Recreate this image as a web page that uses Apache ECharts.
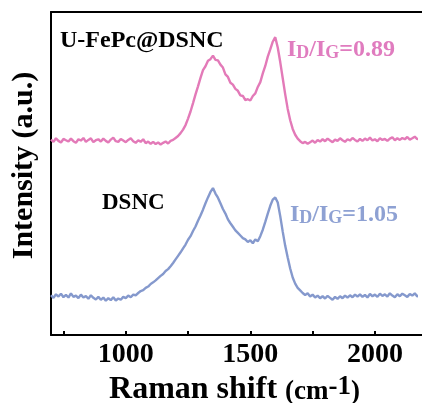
<!DOCTYPE html>
<html>
<head>
<meta charset="utf-8">
<script src="https://cdn.jsdelivr.net/npm/echarts@6/dist/echarts.min.js"></script>
<style>
  html, body { margin: 0; padding: 0; background: #fff; }
  #raman_ { width: 422px; height: 403px; }
</style>
</head>
<body>
<div id="raman_"></div>
<script>
// Raman shift, cm-1 (10 cm-1 step)
var shift = [
    700, 710, 720, 730, 740, 750, 760, 770, 780, 790,
    800, 810, 820, 830, 840, 850, 860, 870, 880, 890,
    900, 910, 920, 930, 940, 950, 960, 970, 980, 990,
    1000, 1010, 1020, 1030, 1040, 1050, 1060, 1070, 1080, 1090,
    1100, 1110, 1120, 1130, 1140, 1150, 1160, 1170, 1180, 1190,
    1200, 1210, 1220, 1230, 1240, 1250, 1260, 1270, 1280, 1290,
    1300, 1310, 1320, 1330, 1340, 1350, 1360, 1370, 1380, 1390,
    1400, 1410, 1420, 1430, 1440, 1450, 1460, 1470, 1480, 1490,
    1500, 1510, 1520, 1530, 1540, 1550, 1560, 1570, 1580, 1590,
    1600, 1610, 1620, 1630, 1640, 1650, 1660, 1670, 1680, 1690,
    1700, 1710, 1720, 1730, 1740, 1750, 1760, 1770, 1780, 1790,
    1800, 1810, 1820, 1830, 1840, 1850, 1860, 1870, 1880, 1890,
    1900, 1910, 1920, 1930, 1940, 1950, 1960, 1970, 1980, 1990,
    2000, 2010, 2020, 2030, 2040, 2050, 2060, 2070, 2080, 2090,
    2100, 2110, 2120, 2130, 2140, 2150, 2160, 2170, 2180, 2190
];

// U-FePc@DSNC (offset upward, arbitrary units)
var ufepc = [
    60.5, 59.8, 60.9, 60.1, 59.6, 60.7, 60.3, 59.9, 60.8, 60.0,
    59.5, 60.6, 60.2, 61.0, 59.8, 60.4, 60.9, 59.7, 60.3, 60.6,
    59.9, 60.8, 60.1, 59.6, 60.5, 61.1, 60.0, 59.8, 60.7, 60.2,
    59.7, 60.4, 60.9, 60.0, 59.5, 60.3, 59.8, 60.6, 59.4, 59.9,
    59.2, 59.8, 59.1, 59.6, 59.0, 59.5, 59.9, 59.3, 60.1, 60.4,
    61.0, 61.6, 62.5, 63.6, 65.0, 67.0, 69.2, 71.8, 74.5, 77.0,
    79.6, 82.0, 83.2, 84.9, 85.4, 86.5, 85.2, 85.0, 83.7, 82.8,
    80.7, 79.9, 78.1, 77.5, 76.2, 75.6, 74.2, 74.0, 72.7, 73.0,
    72.6, 74.0, 74.8, 76.8, 78.3, 81.0, 83.3, 86.2, 88.4, 90.8,
    92.2, 89.0, 84.5, 79.5, 74.5, 70.0, 66.5, 63.8, 62.0, 60.8,
    60.0, 59.4, 59.8, 59.2, 59.7, 60.2, 59.5, 60.4, 59.9, 60.6,
    60.0, 60.8, 60.2, 59.7, 60.5, 60.1, 60.9, 60.3, 59.8, 60.6,
    60.2, 61.0, 60.4, 59.9, 60.7, 60.1, 60.8, 60.3, 61.1, 60.2,
    60.6, 60.0, 60.9, 60.4, 60.7, 60.1, 60.8, 61.2, 60.3, 60.9,
    60.4, 61.0, 60.6, 61.3, 60.5, 60.9, 61.4, 60.6, 61.0, 60.2
];

// DSNC
var dsnc = [
    12.3, 11.5, 12.6, 11.9, 12.8, 11.7, 12.4, 11.6, 12.9, 11.8,
    12.2, 11.4, 12.5, 11.6, 12.1, 11.2, 12.3, 11.5, 11.0, 11.8,
    10.9, 11.6, 10.6, 11.4, 10.8, 11.7, 10.7, 11.3, 10.9, 11.8,
    11.4, 12.2, 11.7, 12.5, 12.3, 13.0, 13.6, 13.9, 14.6, 15.0,
    15.8, 16.3, 16.9, 17.6, 18.3, 18.9, 19.8, 20.4, 21.3, 22.3,
    23.4, 24.5, 25.6, 26.8, 28.0, 29.5, 30.6, 32.2, 33.6, 35.4,
    37.0, 38.8, 40.8, 42.6, 44.3, 45.5, 43.8, 42.5, 40.8, 39.0,
    37.6, 35.8, 34.6, 33.5, 32.4, 31.6, 30.8, 30.0, 29.6, 28.8,
    29.3, 28.4, 29.6, 29.0, 30.6, 32.6, 35.0, 37.6, 40.0, 41.9,
    42.6, 41.0, 36.8, 32.0, 27.6, 24.0, 20.6, 17.8, 15.9, 14.6,
    13.8, 13.0, 12.4, 12.9, 11.9, 12.5, 11.6, 12.2, 11.4, 12.0,
    11.3, 12.1, 11.5, 10.9, 11.8, 11.2, 12.0, 11.4, 12.2, 11.6,
    12.3, 11.7, 12.5, 11.9, 12.6, 11.8, 12.4, 11.6, 12.7, 12.0,
    12.5, 11.8, 12.8, 12.1, 12.6, 11.9, 12.9, 12.2, 11.7, 12.6,
    12.0, 12.8, 12.3, 11.8, 12.7, 12.2, 12.9, 11.9, 12.5, 12.1
];

var tickValues = [750, 1000, 1250, 1500, 1750, 2000];
var labelValues = [1000, 1500, 2000];

var pink = '#e37ab8';
var blue = '#8599cd';
var serif = '"Liberation Serif", "Times New Roman", serif';

function pairs(xs, ys) {
    var out = [];
    for (var i = 0; i < xs.length; i++) {
        out.push([xs[i], ys[i]]);
    }
    return out;
}

function ratioText(x, y, value, color) {
    return {
        type: 'text',
        x: x,
        y: y,
        style: {
            text: '{m|I}{s|D}{m|/I}{s|G}{m|=' + value + '}',
            verticalAlign: 'middle',
            rich: {
                m: { fontSize: 24, fontWeight: 'bold', fontFamily: serif, fill: color, lineHeight: 24 },
                s: { fontSize: 18, fontWeight: 'bold', fontFamily: serif, fill: color, lineHeight: 6, verticalAlign: 'bottom' }
            }
        }
    };
}

var chart = echarts.init(document.getElementById('raman_'));

var option = {
    backgroundColor: '#fff',
    animation: false,
    grid: {
        left: 51,
        top: 12,
        right: -4,
        bottom: 68,
        outerBoundsMode: 'none'
    },
    xAxis: [{
        type: 'value',
        min: 700,
        max: 2205,
        name: '{m|Raman shift }{p|(cm}{u|-1}{p|)}',
        nameLocation: 'middle',
        nameGap: 23,
        nameTextStyle: {
            padding: [0, 8, 0, 0],
            rich: {
                m: { fontSize: 32, fontWeight: 'bold', fontFamily: serif, color: '#000', lineHeight: 32 },
                p: { fontSize: 27, fontWeight: 'bold', fontFamily: serif, color: '#000', lineHeight: 32, verticalAlign: 'bottom' },
                u: { fontSize: 27, fontWeight: 'bold', fontFamily: serif, color: '#000', lineHeight: 4, verticalAlign: 'top' }
            }
        },
        axisLine: { show: true, onZero: false, lineStyle: { color: '#000', width: 2 } },
        axisTick: { show: true, inside: true, length: 4, customValues: tickValues, lineStyle: { color: '#000', width: 2 } },
        axisLabel: {
            customValues: labelValues,
            margin: 6,
            fontSize: 28,
            fontWeight: 'bold',
            fontFamily: serif,
            color: '#000',
            formatter: function (v) { return String(v); }
        },
        splitLine: { show: false }
    }, {
        // top frame line
        type: 'value',
        position: 'top',
        min: 700,
        max: 2205,
        axisLine: { show: true, onZero: false, lineStyle: { color: '#000', width: 2 } },
        axisTick: { show: false },
        axisLabel: { show: false },
        splitLine: { show: false }
    }],
    yAxis: {
        type: 'value',
        min: 0,
        max: 100,
        name: 'Intensity (a.u.)',
        nameLocation: 'middle',
        nameGap: 12,
        nameTextStyle: { fontSize: 30, fontWeight: 'bold', fontFamily: serif, color: '#000', padding: [0, 0, 0, 16] },
        axisLine: { show: true, lineStyle: { color: '#000', width: 2 } },
        axisTick: { show: false },
        axisLabel: { show: false },
        splitLine: { show: false }
    },
    series: [{
        name: 'U-FePc@DSNC',
        type: 'line',
        showSymbol: false,
        lineStyle: { color: pink, width: 2.4 },
        data: pairs(shift, ufepc)
    }, {
        name: 'DSNC',
        type: 'line',
        showSymbol: false,
        lineStyle: { color: blue, width: 2.4 },
        data: pairs(shift, dsnc)
    }],
    graphic: [
        {
            type: 'text', x: 60, y: 41,
            style: { text: 'U-FePc@DSNC', fontSize: 24, fontWeight: 'bold', fontFamily: serif, fill: '#000', verticalAlign: 'middle' }
        },
        {
            type: 'text', x: 102, y: 203,
            style: { text: 'DSNC', fontSize: 23, fontWeight: 'bold', fontFamily: serif, fill: '#000', verticalAlign: 'middle' }
        },
        ratioText(287, 50, '0.89', '#e07cbf'),
        ratioText(290, 215, '1.05', '#8ea1d3'),
        {
            // the plot runs off the right edge: no frame line there
            type: 'rect', z: 100,
            shape: { x: 418, y: 13, width: 4, height: 321 },
            style: { fill: '#fff' }
        }
    ]
};

chart.setOption(option);
window.onresize = function () {
    chart.resize();
};
</script>
</body>
</html>
